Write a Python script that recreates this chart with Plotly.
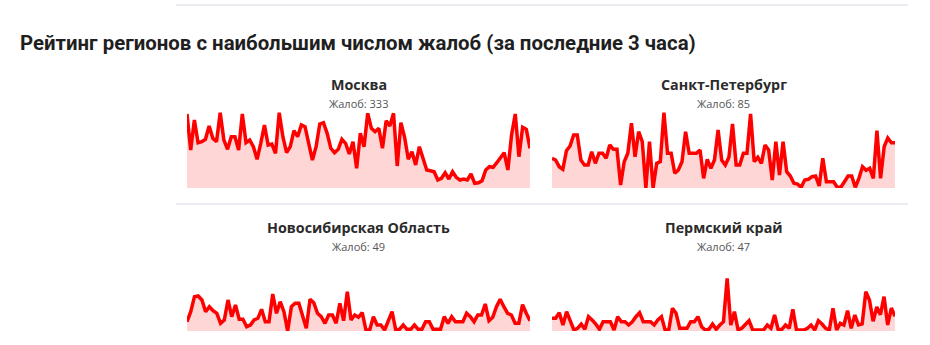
import plotly.graph_objects as go

# ---------------- data ----------------
title_text = "Рейтинг регионов с наибольшим числом жалоб (за последние 3 часа)"
regions = ["Москва", "Санкт-Петербург", "Новосибирская Область", "Пермский край"]
totals = [333, 85, 49, 47]

moscow = [74, 38, 68, 45.3, 46.3, 48.7, 62, 49.7, 46.3, 75.3, 48, 38.7, 51.3, 51.3, 38,
          74, 45.3, 48, 41.3, 28.7, 44.7, 63, 43, 44, 34.7, 75.3, 51.3, 35.3, 41.3, 57.3,
          51.3, 63, 61.3, 43, 28, 41.3, 64, 65.3, 54.7, 39.7, 35.3, 38.7, 48.7, 44.7, 34,
          46.3, 19.7, 54.7, 41.3, 74.7, 59.7, 56.3, 59.7, 39.7, 67.3, 62, 74.7, 22, 65.3,
          50.7, 28.7, 36.3, 23, 41.3, 29.7, 18, 17.3, 16.3, 8, 9.7, 15.3, 9, 16.3, 10.7, 8,
          9, 8, 14, 4.7, 5.3, 7.3, 18, 21.3, 20.7, 25.3, 30.7, 35.3, 18, 53, 74, 31.3, 60.7,
          58.7, 39.7]

spb = [29.7, 28, 21.3, 18.7, 37.3, 42, 53, 53, 28, 23, 23, 36.3, 24.7, 34.7, 34.7, 29.7,
       43, 38.7, 38.7, 3, 26.3, 34.7, 64.7, 31.3, 56.3, 46.3, 0, 46.3, 0, 24.7, 26.3, 75.3,
       34.7, 34.7, 14.7, 18, 26.3, 56.3, 34.7, 34.7, 34.7, 38, 9.7, 28.7, 19.7, 28, 58, 28,
       23, 30.7, 64, 23, 23, 34.7, 34.7, 74, 26.3, 30.7, 24.7, 43, 38, 8, 46.3, 13, 46.3,
       16.3, 12, 4.7, 4, 0.7, 8, 8.7, 11.3, 12, 2, 29.7, 6.3, 6.3, 6.3, 0.7, 0.7, 6.3, 12,
       12, 0.7, 9.7, 21.3, 17.7, 19.7, 9.7, 57.3, 9.7, 41.3, 50, 45.3, 45.3]

novosibirsk = [9.3, 19.3, 34.3, 35, 31, 19.3, 24.3, 20.3, 17.7, 7.7, 11, 31, 14.3, 26, 11.7,
               11.7, 4.3, 6, 11, 12.7, 21.7, 9.3, 9.3, 37, 17.7, 29.3, 19.3, 0, 24.3, 27.7,
               27.7, 14.3, 2.7, 31.7, 28.3, 17.7, 14.3, 7.7, 16, 16, 7.7, 27.7, 10.3, 39.3,
               11, 16, 13.7, 18.3, 1, 1, 14.3, 6, 6, 1, 10.3, 19.3, 1, 1.7, 6, 1.7, 1.7, 6,
               1.7, 1.7, 9.3, 9.3, 1.7, 1.7, 1.7, 14.3, 7.7, 14.3, 9.3, 9.3, 9.3, 17.7, 14.3,
               9.3, 16, 16, 27, 10.3, 13.7, 24.3, 31.7, 24.3, 17.7, 16, 7.7, 7.7, 26.3, 17.7,
               10.3]

perm = [12.7, 12.7, 18.3, 6, 19.3, 9.3, 1, 2.7, 7, 1.7, 14.3, 11, 7, 1.7, 9.3, 9.3, 9.3, 1,
        14.3, 9.3, 9.3, 6, 9.3, 14.3, 18.3, 9.3, 9.3, 9.3, 6, 11, 14.3, 1, 1, 22.7, 17.7,
        2.7, 2.7, 2.7, 9.3, 9.3, 14.3, 4.3, 1, 1.7, 7, 1.7, 6, 9.3, 52.7, 6, 19.3, 1, 2.7, 7,
        10.3, 1, 1, 1, 1, 6, 2.7, 16, 1, 1.7, 6, 2.7, 21.7, 1, 1, 1, 2.7, 6, 1, 10.3, 7, 2.7,
        1, 22.7, 1, 7.7, 6, 20.3, 2.7, 16, 6, 7, 39.3, 31, 9.7, 24, 16.3, 34.3, 6, 23, 14.7]

series = [moscow, spb, novosibirsk, perm]

# ---------------- layout ----------------
W, H = 930, 345
def fx(px):
    return px / W
def fy(py):
    return 1 - py / H

x_spans = [(187, 530), (552, 895), (187, 530), (552, 895)]
y_spans = [(110, 188), (110, 188), (253, 331), (253, 331)]
title_y = [84, 84, 227, 227]
sub_y = [104, 104, 246, 246]

fig = go.Figure()
layout = dict(
    width=W, height=H,
    margin=dict(l=0, r=0, t=0, b=0),
    paper_bgcolor="white", plot_bgcolor="rgba(0,0,0,0)",
    showlegend=False,
    annotations=[], shapes=[],
)

for i, s in enumerate(series):
    k = "" if i == 0 else str(i + 1)
    fig.add_trace(go.Scatter(
        x=list(range(len(s))), y=s,
        xaxis="x" + k, yaxis="y" + k,
        mode="lines",
        line=dict(color="#ff0000", width=3.5),
        fill="tozeroy", fillcolor="rgba(255,0,0,0.16)",
        hoverinfo="skip",
    ))
    x0, x1 = x_spans[i]
    y0, y1 = y_spans[i]
    layout["xaxis" + k] = dict(domain=[fx(x0), fx(x1)], range=[0, len(s) - 1],
                               visible=False, fixedrange=True, anchor="y" + k)
    layout["yaxis" + k] = dict(domain=[fy(y1), fy(y0)], range=[0, 78],
                               visible=False, fixedrange=True, anchor="x" + k)
    cx = fx((x0 + x1) / 2)
    layout["annotations"].append(dict(
        text=regions[i], x=cx, y=fy(title_y[i]), xref="paper", yref="paper",
        xanchor="center", yanchor="middle", showarrow=False,
        font=dict(family="Open Sans, sans-serif", size=14.3, color="#2b2b2b", weight=700)))
    layout["annotations"].append(dict(
        text=f"Жалоб: {totals[i]}", x=cx, y=fy(sub_y[i]), xref="paper", yref="paper",
        xanchor="center", yanchor="middle", showarrow=False,
        font=dict(family="Open Sans, sans-serif", size=11, color="#555555")))

layout["annotations"].append(dict(
    text=title_text, x=fx(18), y=fy(43), xref="paper", yref="paper",
    xanchor="left", yanchor="middle", showarrow=False,
    font=dict(family="Roboto, sans-serif", size=20.4,
              color="#1f1f1f", weight=700)))

for yy in (5, 204):
    layout["shapes"].append(dict(type="line", xref="paper", yref="paper",
                                 x0=fx(176), x1=fx(908), y0=fy(yy), y1=fy(yy),
                                 line=dict(color="#e8ebf0", width=2)))

fig.update_layout(**layout)
fig.write_html("out.html")
